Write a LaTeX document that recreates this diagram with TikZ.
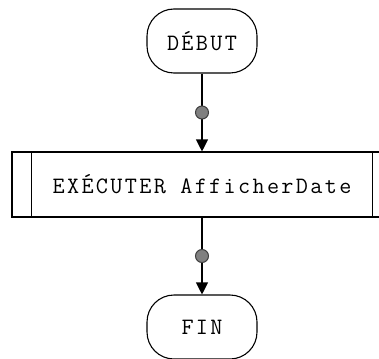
\documentclass[tikz,border=0pt]{standalone}
\usepackage{fontspec}
\usetikzlibrary{arrows.meta,calc}
\newfontfamily\diagmono[LetterSpace=10]{Latin Modern Mono}
\newcommand\diagfont{\diagmono\fontsize{23.5}{26}\selectfont}
\begin{document}
\begin{tikzpicture}[x=1pt,y=-1pt,
  line width=1.1pt,
  terminal/.style={draw,rounded corners=27pt,minimum width=110pt,minimum height=64pt,inner sep=0pt,font=\diagfont},
  procbox/.style={draw,minimum width=380pt,minimum height=65pt,inner sep=0pt,font=\diagfont},
  flow/.style={-{Triangle[length=12pt,width=12pt]}},
  junction/.style={circle,draw=black!75,fill=black!50,line width=1pt,minimum size=13pt,inner sep=0pt}]
\useasboundingbox (0,0) rectangle (379,358);
\clip (0,0) rectangle (379,358);
\node[terminal] (debut) at (202,41) {DÉBUT};
\node[procbox] (exec) at (202,184.5) {EXÉCUTER AfficherDate};
\draw ($(exec.north west)+(20,0)$) -- ($(exec.south west)+(20,0)$);
\draw ($(exec.north east)+(-20,0)$) -- ($(exec.south east)+(-20,0)$);
\node[terminal] (fin) at (202,327) {FIN};
\draw[flow] (debut) -- node[junction] (j1) {} (exec);
\draw[flow] (exec) -- node[junction] (j2) {} (fin);
\end{tikzpicture}
\end{document}
